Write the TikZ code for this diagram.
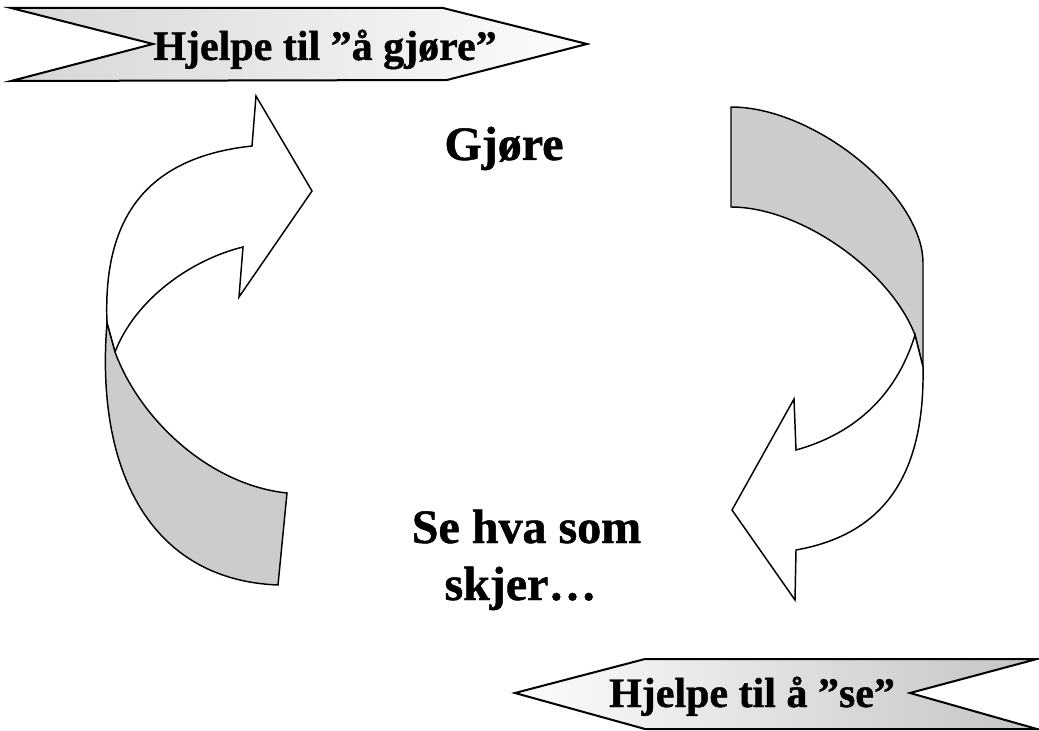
\documentclass[tikz,border=0pt]{standalone}
\usepackage{fontspec}
\setmainfont[BoldFeatures={FakeBold=1}]{Liberation Serif}
\begin{document}
\begin{tikzpicture}[x=0.75pt,y=-0.75pt,
  banner/.style={draw=black, line width=1.5pt, line join=miter},
  ribbon/.style={draw=black, line width=1.1pt, line join=miter},
  backside/.style={ribbon, fill=black!20},
  front/.style={ribbon, fill=white},
  bigtext/.style={inner sep=0pt, anchor=base, font=\bfseries\fontsize{36}{40}\selectfont},
  bantext/.style={inner sep=0pt, anchor=base, font=\bfseries\fontsize{31.5}{36}\selectfont}]
\useasboundingbox (0,0) rectangle (1039,731);

% top banner
\path[banner, left color=black!16, right color=black!1]
  (11,8) -- (443,8) -- (587,44) -- (447,80) -- (11,81) -- (153,44) -- cycle;
\node[bantext] (hgj) at (325,60) {Hjelpe til ”å gjøre”};

% bottom banner
\path[banner, left color=black!1, right color=black!23]
  (515,693) -- (645,659) -- (1037,659) -- (910,693) -- (1037,729) -- (645,729) -- cycle;
\node[bantext] (hse) at (752,707) {Hjelpe til å ”se”};

% left curved arrow
\path[front] (252,146) .. controls (140,158) and (103,225) .. (107,323)
  -- (115,352) .. controls (135,300) and (190,260) .. (243,247)
  -- (239,297) -- (312,191) -- (256,96) -- cycle;
\path[backside] (107,323) .. controls (95,470) and (150,580) .. (278,585)
  -- (287,493) .. controls (210,485) and (140,420) .. (115,352) -- cycle;

% right curved arrow
\path[backside] (731,107) .. controls (815,107) and (923,195) .. (923,263)
  -- (923,367) -- (915,335) .. controls (890,270) and (800,207) .. (731,207) -- cycle;
\path[front] (915,335) .. controls (895,400) and (850,435) .. (796,450)
  -- (794,399) -- (732,510) -- (795,600) -- (796,550)
  .. controls (880,535) and (925,480) .. (923,367) -- cycle;

% texts
\node[bigtext] (gjore) at (504,160) {Gjøre};
\node[bigtext] (se) at (526.5,543) {Se hva som};
\node[bigtext] (skjer) at (520.5,600) {skjer…};
\end{tikzpicture}
\end{document}
